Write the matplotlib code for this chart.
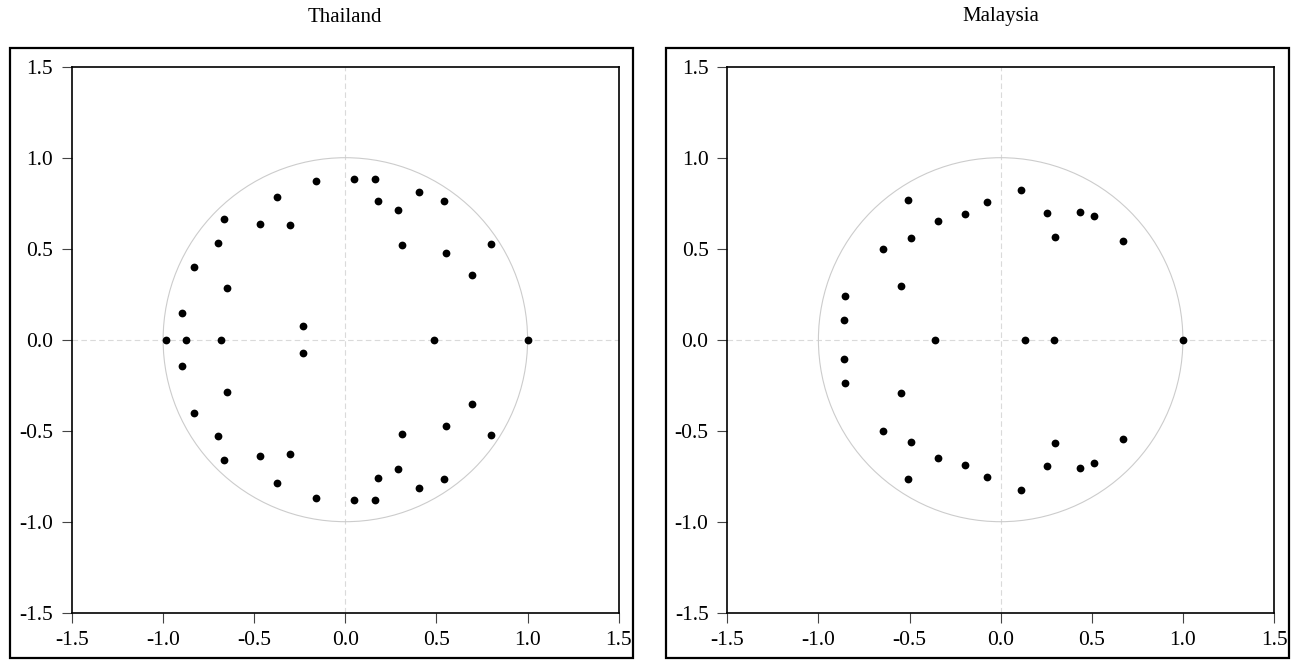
import numpy as np
import matplotlib
matplotlib.use("Agg")
import matplotlib.pyplot as plt
from matplotlib.patches import Rectangle, Circle

plt.rcParams['font.family'] = ['Liberation Serif', 'DejaVu Serif']

# ---- Data: inverse roots ----
titles = ["Thailand", "Malaysia"]

thai_real = [-0.985, -0.875, -0.680, 0.486, 1.0]
thai_cplx_re = [-0.159, -0.377, -0.666, -0.466, -0.302, -0.701, -0.831, -0.649, -0.897, -0.232,
                0.049, 0.161, 0.405, 0.179, 0.539, 0.291, 0.313, 0.800, 0.552, 0.695]
thai_cplx_im = [0.872, 0.786, 0.663, 0.637, 0.628, 0.531, 0.402, 0.285, 0.147, 0.075,
                0.883, 0.883, 0.814, 0.762, 0.764, 0.712, 0.518, 0.525, 0.474, 0.354]

mal_real = [-0.362, 0.136, 0.294, 1.0]
mal_cplx_re = [-0.511, -0.077, -0.197, -0.342, -0.490, -0.645, -0.545, -0.854, -0.860,
               0.114, 0.253, 0.433, 0.511, 0.296, 0.669]
mal_cplx_im = [0.767, 0.755, 0.689, 0.652, 0.560, 0.499, 0.294, 0.240, 0.108,
               0.824, 0.696, 0.703, 0.679, 0.567, 0.545]

ticks = [-1.5, -1.0, -0.5, 0.0, 0.5, 1.0, 1.5]
tick_labels = ["-1.5", "-1.0", "-0.5", "0.0", "0.5", "1.0", "1.5"]

W, H = 1299, 660
fig = plt.figure(figsize=(W / 100, H / 100), dpi=100)

panels = [
    (titles[0], thai_real, thai_cplx_re, thai_cplx_im, 72.0, (10, 633.3)),
    (titles[1], mal_real, mal_cplx_re, mal_cplx_im, 727.3, (665.5, 1288.7)),
]

ax_w = 546.7
ax_top, ax_bot = 66.7, 612.7
box_top, box_bot = 47.7, 657.7

for title, rr, cre, cim, ax_left, (bx0, bx1) in panels:
    # outer frame
    fig.patches.append(Rectangle((bx0 / W, 1 - box_bot / H), (bx1 - bx0) / W, (box_bot - box_top) / H,
                                 transform=fig.transFigure, fill=False, edgecolor='black',
                                 linewidth=1.6, zorder=0))
    fig.text((ax_left + ax_w / 2) / W, 1 - 17 / H, title, ha='center', va='center', fontsize=15)

    ax = fig.add_axes([ax_left / W, 1 - ax_bot / H, ax_w / W, (ax_bot - ax_top) / H])
    ax.set_xlim(-1.5, 1.5)
    ax.set_ylim(-1.5, 1.5)
    ax.axhline(0, color='#dadada', lw=0.8, ls=(0, (5, 3)), zorder=1)
    ax.axvline(0, color='#dadada', lw=0.8, ls=(0, (5, 3)), zorder=1)
    ax.add_patch(Circle((0, 0), 1.0, fill=False, edgecolor='#cccccc', lw=0.8, zorder=1))

    cre = np.asarray(cre)
    cim = np.asarray(cim)
    xs = np.concatenate([np.asarray(rr), cre, cre])
    ys = np.concatenate([np.zeros(len(rr)), cim, -cim])
    ax.plot(xs, ys, 'o', color='black', markersize=5.6, markeredgewidth=0, zorder=3)

    ax.set_xticks(ticks)
    ax.set_xticklabels(tick_labels)
    ax.set_yticks(ticks)
    ax.set_yticklabels(tick_labels)
    ax.tick_params(axis='both', direction='out', length=7.5, width=0.8, labelsize=15.5,
                   color='#444444')
    ax.tick_params(axis='x', pad=6)
    ax.tick_params(axis='y', pad=6)
    for s in ax.spines.values():
        s.set_linewidth(1.2)
        s.set_color('black')

fig.savefig("out.png", dpi=100)
